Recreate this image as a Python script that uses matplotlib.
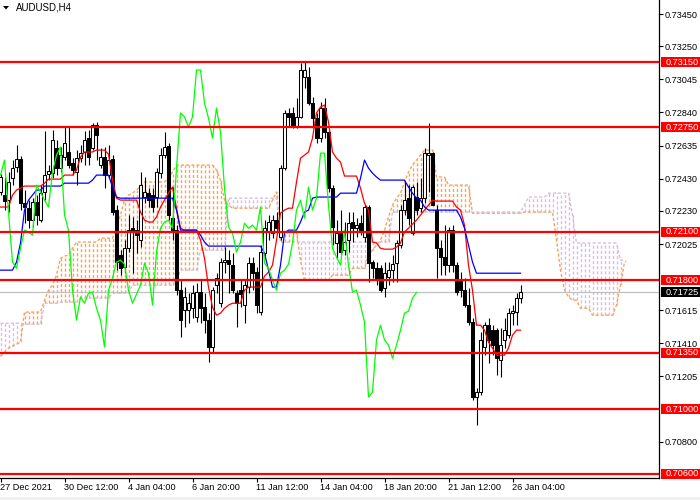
import matplotlib
matplotlib.use("Agg")
import matplotlib.pyplot as plt
import matplotlib.transforms as mtransforms
from matplotlib.patches import Rectangle, Polygon
import numpy as np

plt.rcParams['font.family'] = ['Liberation Sans', 'DejaVu Sans']

title_text = "AUDUSD,H4"

open_ = [0.72347, 0.72328, 0.72297, 0.72433, 0.72502, 0.72551, 0.72278, 0.72247, 0.72173, 0.72285,
         0.72173, 0.72347, 0.72458, 0.72464, 0.72620, 0.72495, 0.72564, 0.72595, 0.72526, 0.72471,
         0.72557, 0.72595, 0.72681, 0.72620, 0.72762, 0.72514, 0.72564, 0.72452, 0.72551, 0.72235,
         0.71956, 0.71882, 0.71999, 0.72123, 0.72111, 0.72049, 0.72316, 0.72340, 0.72328, 0.72316,
         0.72464, 0.72576, 0.72632, 0.72185, 0.72111, 0.71739, 0.71615, 0.71615, 0.71627, 0.71572,
         0.71727, 0.71633, 0.71553, 0.71386, 0.71770, 0.71658, 0.71913, 0.71925, 0.71894, 0.71720,
         0.71739, 0.71646, 0.71758, 0.71906, 0.71851, 0.71603, 0.71968, 0.72099, 0.72093, 0.72173,
         0.72068, 0.72495, 0.72837, 0.72837, 0.72750, 0.72812, 0.73060, 0.73060, 0.72898, 0.72805,
         0.72681, 0.72867, 0.72719, 0.72371, 0.72031, 0.72093, 0.71987, 0.72049, 0.72161, 0.72123,
         0.72154, 0.72068, 0.72254, 0.71913, 0.71875, 0.71875, 0.71751, 0.71820, 0.71863, 0.71906,
         0.72018, 0.72235, 0.72309, 0.72093, 0.72316, 0.72247, 0.72309, 0.72576, 0.72588, 0.72235,
         0.71999, 0.71944, 0.71894, 0.72111, 0.71894, 0.71801, 0.71739, 0.71646, 0.71541, 0.71076,
         0.71107, 0.71386, 0.71522, 0.71491, 0.71491, 0.71305, 0.71430, 0.71460, 0.71596, 0.71603,
         0.71690]

high = [0.72458, 0.72440, 0.72471, 0.72545, 0.72638, 0.72570, 0.72359, 0.72297, 0.72309, 0.72328,
        0.72390, 0.72725, 0.72514, 0.72731, 0.72669, 0.72626, 0.72750, 0.72750, 0.72557, 0.72607,
        0.72638, 0.72725, 0.72731, 0.72775, 0.72781, 0.72620, 0.72626, 0.72638, 0.72576, 0.72266,
        0.71987, 0.72049, 0.72204, 0.72192, 0.72173, 0.72471, 0.72440, 0.72372, 0.72371, 0.72495,
        0.72620, 0.72719, 0.72650, 0.72378, 0.72142, 0.71801, 0.71758, 0.71720, 0.71770, 0.71783,
        0.71801, 0.71720, 0.71596, 0.71758, 0.71844, 0.71937, 0.72006, 0.71987, 0.71968, 0.71739,
        0.71801, 0.71801, 0.71944, 0.71944, 0.71882, 0.72018, 0.72173, 0.72204, 0.72204, 0.72223,
        0.72514, 0.72855, 0.72867, 0.72874, 0.72929, 0.73146, 0.73153, 0.73122, 0.72936, 0.72837,
        0.72905, 0.72929, 0.72731, 0.72390, 0.72173, 0.72235, 0.72161, 0.72223, 0.72223, 0.72185,
        0.72204, 0.72266, 0.72266, 0.71925, 0.71913, 0.71894, 0.71913, 0.71913, 0.71956, 0.72049,
        0.72266, 0.72409, 0.72390, 0.72390, 0.72409, 0.72433, 0.72620, 0.72775, 0.72595, 0.72266,
        0.72049, 0.72142, 0.72130, 0.72142, 0.71913, 0.71851, 0.71814, 0.71751, 0.71565, 0.71131,
        0.71479, 0.71541, 0.71565, 0.71522, 0.71503, 0.71503, 0.71565, 0.71627, 0.71646, 0.71720,
        0.71770]

low = [0.72328, 0.72235, 0.72223, 0.72390, 0.72471, 0.72235, 0.72154, 0.72123, 0.72130, 0.72142,
       0.72161, 0.72297, 0.72421, 0.72433, 0.72452, 0.72471, 0.72545, 0.72495, 0.72452, 0.72390,
       0.72533, 0.72514, 0.72514, 0.72607, 0.72545, 0.72495, 0.72372, 0.72433, 0.72204, 0.71863,
       0.71832, 0.71844, 0.71975, 0.71844, 0.71968, 0.72006, 0.72278, 0.72254, 0.72223, 0.72254,
       0.72433, 0.72557, 0.72173, 0.72049, 0.71708, 0.71448, 0.71510, 0.71534, 0.71565, 0.71541,
       0.71534, 0.71472, 0.71293, 0.71348, 0.71720, 0.71633, 0.71844, 0.71720, 0.71720, 0.71510,
       0.71633, 0.71534, 0.71720, 0.71739, 0.71596, 0.71584, 0.71937, 0.72049, 0.72061, 0.72099,
       0.72049, 0.72483, 0.72750, 0.72744, 0.72744, 0.72806, 0.72991, 0.72886, 0.72744, 0.72650,
       0.72657, 0.72681, 0.72347, 0.72018, 0.71937, 0.71956, 0.71956, 0.71975, 0.72037, 0.72068,
       0.72080, 0.72037, 0.71789, 0.71814, 0.71770, 0.71727, 0.71696, 0.71770, 0.71789, 0.71789,
       0.71999, 0.72204, 0.72142, 0.72080, 0.72204, 0.72223, 0.72278, 0.72347, 0.72266, 0.71814,
       0.71832, 0.71832, 0.71851, 0.71851, 0.71708, 0.71696, 0.71633, 0.71522, 0.71057, 0.70902,
       0.71088, 0.71336, 0.71286, 0.71336, 0.71212, 0.71200, 0.71380, 0.71442, 0.71522, 0.71522,
       0.71658]

close = [0.72440, 0.72291, 0.72409, 0.72495, 0.72551, 0.72278, 0.72254, 0.72173, 0.72285, 0.72204,
         0.72340, 0.72452, 0.72477, 0.72669, 0.72495, 0.72576, 0.72650, 0.72514, 0.72483, 0.72557,
         0.72588, 0.72669, 0.72564, 0.72762, 0.72700, 0.72564, 0.72452, 0.72545, 0.72223, 0.71913,
         0.71875, 0.71999, 0.72111, 0.72099, 0.72080, 0.72390, 0.72347, 0.72297, 0.72254, 0.72471,
         0.72576, 0.72626, 0.72204, 0.72111, 0.71739, 0.71553, 0.71696, 0.71658, 0.71720, 0.71727,
         0.71627, 0.71553, 0.71386, 0.71739, 0.71814, 0.71913, 0.71925, 0.71900, 0.71739, 0.71658,
         0.71714, 0.71770, 0.71906, 0.71844, 0.71646, 0.71975, 0.72123, 0.72161, 0.72173, 0.72123,
         0.72495, 0.72837, 0.72812, 0.72750, 0.72812, 0.73103, 0.73103, 0.72898, 0.72805, 0.72681,
         0.72867, 0.72719, 0.72371, 0.72130, 0.72093, 0.71975, 0.72037, 0.72154, 0.72123, 0.72142,
         0.72111, 0.72254, 0.71906, 0.71875, 0.71801, 0.71739, 0.71844, 0.71863, 0.71900, 0.72031,
         0.72235, 0.72297, 0.72185, 0.72378, 0.72235, 0.72309, 0.72588, 0.72588, 0.72266, 0.71999,
         0.71944, 0.71894, 0.72111, 0.71894, 0.71727, 0.71739, 0.71646, 0.71541, 0.71076, 0.71107,
         0.71430, 0.71522, 0.71430, 0.71398, 0.71317, 0.71398, 0.71491, 0.71596, 0.71609, 0.71690,
         0.71725]

tenkan = [0.72254, 0.72254, 0.72254, 0.72328, 0.72359, 0.72371, 0.72384, 0.72384, 0.72384, 0.72384,
          0.72384, 0.72402, 0.72427, 0.72427, 0.72427, 0.72427, 0.72452, 0.72452, 0.72452, 0.72483,
          0.72564, 0.72595, 0.72595, 0.72595, 0.72607, 0.72607, 0.72607, 0.72582, 0.72421, 0.72309,
          0.72297, 0.72297, 0.72297, 0.72297, 0.72297, 0.72223, 0.72173, 0.72161, 0.72161, 0.72192,
          0.72254, 0.72297, 0.72340, 0.72378, 0.72247, 0.72123, 0.72111, 0.72111, 0.72111, 0.72111,
          0.72049, 0.71937, 0.71758, 0.71633, 0.71584, 0.71596, 0.71627, 0.71646, 0.71658, 0.71658,
          0.71658, 0.71739, 0.71758, 0.71758, 0.71758, 0.71758, 0.71826, 0.71851, 0.71894, 0.72049,
          0.72216, 0.72235, 0.72247, 0.72247, 0.72409, 0.72557, 0.72576, 0.72595, 0.72681, 0.72837,
          0.72874, 0.72886, 0.72781, 0.72595, 0.72557, 0.72533, 0.72446, 0.72446, 0.72446, 0.72446,
          0.72371, 0.72278, 0.72235, 0.72037, 0.72031, 0.71999, 0.71993, 0.71993, 0.71993, 0.72006,
          0.72031, 0.72099, 0.72123, 0.72148, 0.72173, 0.72204, 0.72235, 0.72266, 0.72297, 0.72291,
          0.72291, 0.72291, 0.72291, 0.72291, 0.72254, 0.72235, 0.72142, 0.71894, 0.71739, 0.71522,
          0.71522, 0.71491, 0.71417, 0.71380, 0.71336, 0.71336, 0.71336, 0.71380, 0.71460, 0.71491,
          0.71491]

kijun = [0.71863, 0.71863, 0.71863, 0.71863, 0.71913, 0.72031, 0.72235, 0.72297, 0.72328, 0.72359,
         0.72359, 0.72384, 0.72384, 0.72384, 0.72384, 0.72384, 0.72402, 0.72402, 0.72402, 0.72402,
         0.72402, 0.72402, 0.72402, 0.72421, 0.72452, 0.72452, 0.72452, 0.72452, 0.72378, 0.72316,
         0.72309, 0.72309, 0.72309, 0.72309, 0.72309, 0.72309, 0.72309, 0.72309, 0.72309, 0.72309,
         0.72309, 0.72309, 0.72309, 0.72309, 0.72235, 0.72111, 0.72111, 0.72111, 0.72111, 0.72111,
         0.72080, 0.72037, 0.72012, 0.72012, 0.72012, 0.72012, 0.72012, 0.72012, 0.72012, 0.72012,
         0.72012, 0.72012, 0.72012, 0.72012, 0.72012, 0.72012, 0.71968, 0.71863, 0.71758, 0.71758,
         0.71894, 0.72093, 0.72111, 0.72111, 0.72111, 0.72161, 0.72223, 0.72235, 0.72309, 0.72316,
         0.72316, 0.72316, 0.72316, 0.72316, 0.72316, 0.72340, 0.72340, 0.72340, 0.72340, 0.72340,
         0.72433, 0.72545, 0.72495, 0.72464, 0.72440, 0.72421, 0.72421, 0.72421, 0.72421, 0.72421,
         0.72421, 0.72421, 0.72378, 0.72340, 0.72309, 0.72297, 0.72254, 0.72235, 0.72235, 0.72235,
         0.72235, 0.72235, 0.72235, 0.72235, 0.72235, 0.72192, 0.72123, 0.72018, 0.71913, 0.71844,
         0.71844, 0.71844, 0.71844, 0.71844, 0.71844, 0.71844, 0.71844, 0.71844, 0.71844, 0.71844,
         0.71844]

span_a = [0.71330, 0.71355, 0.71380, 0.71392, 0.71404, 0.71417, 0.71603, 0.71603, 0.71603, 0.71603,
          0.71603, 0.71677, 0.71739, 0.71770, 0.71832, 0.71937, 0.71950, 0.71956, 0.71999, 0.72037,
          0.72037, 0.72037, 0.72037, 0.72037, 0.72037, 0.72061, 0.72061, 0.72061, 0.72061, 0.72123,
          0.72204, 0.72297, 0.72328, 0.72340, 0.72359, 0.72384, 0.72409, 0.72409, 0.72409, 0.72409,
          0.72409, 0.72409, 0.72433, 0.72471, 0.72514, 0.72514, 0.72514, 0.72514, 0.72514, 0.72514,
          0.72514, 0.72514, 0.72514, 0.72514, 0.72483, 0.72421, 0.72297, 0.72266, 0.72247, 0.72247,
          0.72247, 0.72247, 0.72247, 0.72247, 0.72247, 0.72247, 0.72247, 0.72247, 0.72297, 0.72347,
          0.72099, 0.72099, 0.72099, 0.72099, 0.72099, 0.71925, 0.71801, 0.71801, 0.71801, 0.71801,
          0.71801, 0.71801, 0.71801, 0.71832, 0.71832, 0.71832, 0.71832, 0.71832, 0.71875, 0.71875,
          0.71875, 0.71875, 0.71956, 0.71987, 0.72018, 0.72049, 0.72111, 0.72192, 0.72266, 0.72309,
          0.72340, 0.72409, 0.72471, 0.72514, 0.72545, 0.72576, 0.72607, 0.72607, 0.72607, 0.72440,
          0.72440, 0.72440, 0.72390, 0.72390, 0.72390, 0.72390, 0.72390, 0.72390, 0.72216, 0.72216,
          0.72216, 0.72216, 0.72216, 0.72216, 0.72216, 0.72216, 0.72216, 0.72216, 0.72216, 0.72216,
          0.72216, 0.72223, 0.72223, 0.72223, 0.72223, 0.72223, 0.72223, 0.72223, 0.72223, 0.72049,
          0.71863, 0.71739, 0.71696, 0.71677, 0.71677, 0.71627, 0.71627, 0.71627, 0.71584, 0.71584,
          0.71584, 0.71584, 0.71584, 0.71584, 0.71646, 0.71770, 0.71913]

span_b = [0.71534, 0.71534, 0.71534, 0.71534, 0.71534, 0.71534, 0.71528, 0.71528, 0.71528, 0.71528,
          0.71528, 0.71658, 0.71658, 0.71658, 0.71658, 0.71665, 0.71665, 0.71665, 0.71665, 0.71665,
          0.71690, 0.71690, 0.71690, 0.71690, 0.71690, 0.71690, 0.71690, 0.71690, 0.71720, 0.71720,
          0.71720, 0.71720, 0.71720, 0.71770, 0.71770, 0.71770, 0.71770, 0.71770, 0.71770, 0.71770,
          0.71770, 0.71770, 0.71770, 0.71770, 0.71801, 0.71863, 0.71863, 0.71863, 0.71863, 0.71863,
          0.71987, 0.71987, 0.71987, 0.71987, 0.71987, 0.71987, 0.71987, 0.72309, 0.72309, 0.72309,
          0.72309, 0.72309, 0.72309, 0.72309, 0.72309, 0.72309, 0.72309, 0.72309, 0.72309, 0.72309,
          0.72037, 0.72037, 0.72037, 0.72037, 0.72037, 0.72037, 0.72037, 0.72037, 0.72037, 0.72037,
          0.72037, 0.72037, 0.72037, 0.72037, 0.72037, 0.72037, 0.72037, 0.72037, 0.72037, 0.72037,
          0.72037, 0.72037, 0.72037, 0.72037, 0.72037, 0.72037, 0.72037, 0.72037, 0.72223, 0.72223,
          0.72223, 0.72223, 0.72223, 0.72223, 0.72223, 0.72223, 0.72223, 0.72223, 0.72223, 0.72223,
          0.72223, 0.72223, 0.72223, 0.72223, 0.72223, 0.72223, 0.72223, 0.72223, 0.72223, 0.72223,
          0.72223, 0.72223, 0.72223, 0.72223, 0.72223, 0.72223, 0.72223, 0.72223, 0.72223, 0.72223,
          0.72223, 0.72266, 0.72316, 0.72316, 0.72316, 0.72316, 0.72316, 0.72340, 0.72340, 0.72340,
          0.72340, 0.72340, 0.72340, 0.72204, 0.72031, 0.72031, 0.72031, 0.72031, 0.72031, 0.72031,
          0.72031, 0.72031, 0.72031, 0.72031, 0.72031, 0.71925, 0.71925]

chikou_shift = 26

level_prices = [0.73150, 0.72750, 0.72100, 0.71800, 0.71350, 0.71000, 0.70600]
level_labels = ["0.73150", "0.72750", "0.72100", "0.71800", "0.71350", "0.71000", "0.70600"]
bid_price = 0.71725
bid_label = "0.71725"

ytick_values = [0.73450, 0.73250, 0.73045, 0.72840, 0.72635, 0.72430, 0.72230, 0.72025,
                0.71615, 0.71410, 0.71205, 0.70800]
ytick_labels = ["0.73450", "0.73250", "0.73045", "0.72840", "0.72635", "0.72430", "0.72230", "0.72025",
                "0.71615", "0.71410", "0.71205", "0.70800"]

xtick_labels = ["27 Dec 2021", "30 Dec 12:00", "4 Jan 04:00", "6 Jan 20:00", "11 Jan 12:00",
                "14 Jan 04:00", "18 Jan 20:00", "21 Jan 12:00", "26 Jan 04:00"]
bars_per_label = 16

# ---------------------------------------------------------------
W, H = 700, 500
FS = 6.6
fig = plt.figure(figsize=(W / 100, H / 100), dpi=100)
fig.patch.set_facecolor("white")
ax = fig.add_axes([0, 22 / H, 659 / W, 478 / H])
ax.set_facecolor("white")

o = np.array(open_)
hi = np.array(high)
lo = np.array(low)
c = np.array(close)
x = np.arange(len(c))

# Ichimoku cloud (hatched)
a = np.array(span_a)
b = np.array(span_b)
xc = np.arange(len(a))
up = a >= b
dash = (0, (2.2, 1.5))
ax.vlines(xc[up], b[up], a[up], colors="#f4a460", linestyles=dash, lw=1.0, zorder=1)
ax.vlines(xc[~up], a[~up], b[~up], colors="#d8bfd8", linestyles=dash, lw=1.0, zorder=1)
ax.plot(xc, a, color="#f4a460", ls=dash, lw=1.0, zorder=1)
ax.plot(xc, b, color="#d8bfd8", ls=dash, lw=1.0, zorder=1)

# bid line
ax.axhline(bid_price, color="#c0c0c0", lw=0.9, zorder=2)

# candles
ax.vlines(x, lo, hi, color="black", lw=0.8, zorder=3)
bull = c >= o
bottom = np.minimum(o, c)
height = np.maximum(np.abs(c - o), 0.00002)
ax.bar(x[bull], height[bull], bottom=bottom[bull], width=0.52, facecolor="white",
       edgecolor="black", linewidth=0.75, zorder=4)
ax.bar(x[~bull], height[~bull], bottom=bottom[~bull], width=0.52, facecolor="black",
       edgecolor="black", linewidth=0.75, zorder=4)

# Ichimoku lines
ax.plot(x, tenkan, color="#ff0000", lw=0.9, zorder=5)
ax.plot(x, kijun, color="#0000ff", lw=0.9, zorder=5)
ax.plot(x[chikou_shift:] - chikou_shift, c[chikou_shift:], color="#00ff00", lw=0.9, zorder=5)

# horizontal levels
for p in level_prices:
    ax.axhline(p, color="#ff0000", lw=1.6, zorder=6)

# axes
ax.set_xlim(-0.125, 164.625)
ax.set_ylim(0.70575, 0.73537)
for s in ("left", "top"):
    ax.spines[s].set_visible(False)
for s in ("right", "bottom"):
    ax.spines[s].set_linewidth(0.9)
    ax.spines[s].set_color("black")
ax.yaxis.tick_right()
ax.set_yticks(ytick_values)
ax.set_yticklabels(ytick_labels)
ax.set_xticks(np.arange(len(xtick_labels)) * bars_per_label)
ax.set_xticklabels(xtick_labels, ha="left")
ax.tick_params(axis="y", direction="out", length=2.6, width=0.8, pad=1.3, labelsize=FS, colors="black")
ax.tick_params(axis="x", direction="out", length=2.6, width=0.8, pad=0.8, labelsize=FS, colors="black")

# price label boxes
trans = mtransforms.blended_transform_factory(fig.transFigure, ax.transData)
px_per_price = 478 / (0.73537 - 0.70575)
box_h = 10 / px_per_price
for p, lab in zip(level_prices, level_labels):
    fig.add_artist(Rectangle((661 / W, p - box_h / 2), 39 / W, box_h, transform=trans,
                             facecolor="#ff0000", edgecolor="none", zorder=10))
    fig.text(665.5 / W, p, lab, transform=trans, color="white", fontsize=FS,
             va="center", ha="left", zorder=11)
fig.add_artist(Rectangle((661 / W, bid_price - box_h / 2), 39 / W, box_h, transform=trans,
                         facecolor="black", edgecolor="none", zorder=10))
fig.text(665.5 / W, bid_price, bid_label, transform=trans, color="white", fontsize=FS,
         va="center", ha="left", zorder=11)

# title
fig.add_artist(Polygon([(3 / W, 1 - 6 / H), (9 / W, 1 - 6 / H), (6 / W, 1 - 9.5 / H)],
                       closed=True, transform=fig.transFigure, facecolor="black", edgecolor="none"))
fig.text(16 / W, 1 - 8 / H, title_text, fontsize=7.0, va="center", ha="left", color="#000000")

# bottom window strip
fig.add_artist(Rectangle((0, 0), 1, 3 / H, transform=fig.transFigure,
                         facecolor="#f0f0f0", edgecolor="none"))

fig.savefig("out.png", dpi=100)
